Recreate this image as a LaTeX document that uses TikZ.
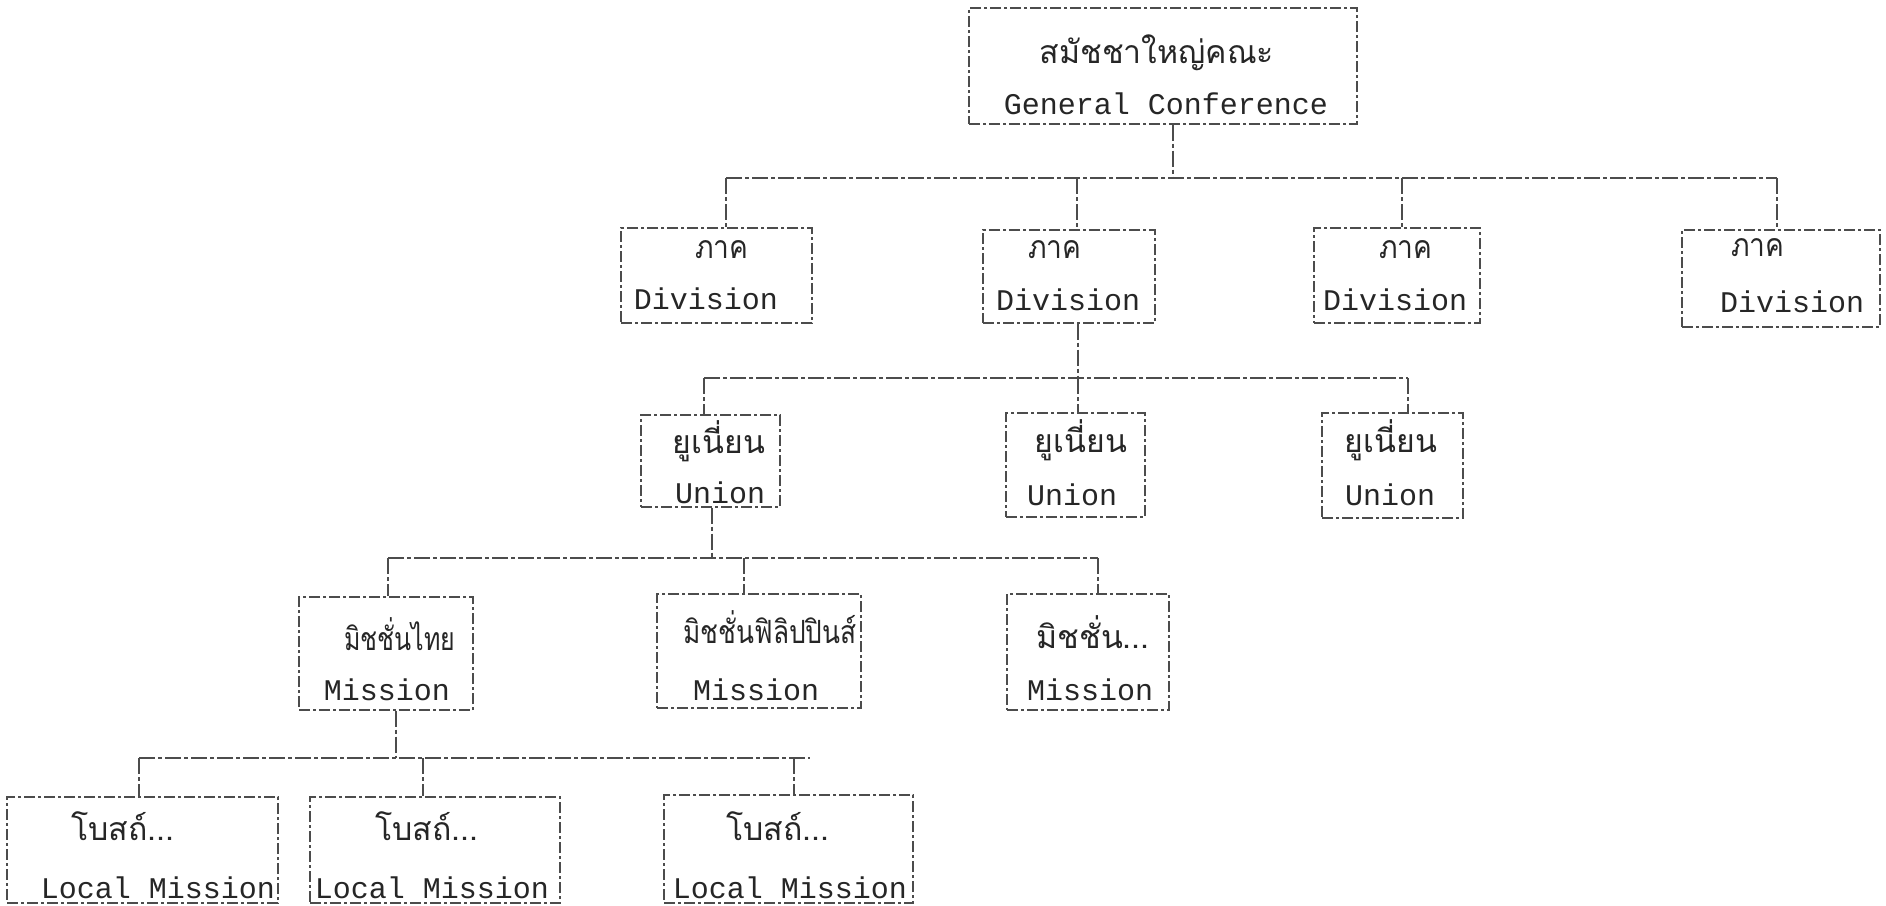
\documentclass[tikz,border=0pt]{standalone}
\usepackage{fontspec}
\newfontfamily\enfont{Liberation Mono}
\newfontfamily\thaifont[Script=Thai]{Loma}
\usetikzlibrary{fit}
\newcommand{\narrow}[2]{\scalebox{#1}[1]{#2}}
\begin{document}
\begin{tikzpicture}[x=1pt,y=-1pt,
  box/.style={draw=black!70, line width=1.3pt, dash pattern=on 11pt off 3pt on 3pt off 3pt, inner sep=0pt},
  conn/.style={draw=black!70, line width=1.3pt, dash pattern=on 16pt off 3pt on 4pt off 3pt},
  th/.style={font=\thaifont\fontsize{32}{38}\selectfont, anchor=base, inner sep=0pt, text=black!85},
  en/.style={font=\enfont\fontsize{30}{36}\selectfont, anchor=base, inner sep=0pt, text=black!85}]
\useasboundingbox[fill=white] (0,0) rectangle (1886,905);

% ---- boxes ----
\node[box, fit={(969,8) (1357,124)}] (gc) {};
\node[box, fit={(621,228) (812,323)}] (div1) {};
\node[box, fit={(983,230) (1155,323)}] (div2) {};
\node[box, fit={(1314,228) (1480,323)}] (div3) {};
\node[box, fit={(1682,230) (1880,327)}] (div4) {};
\node[box, fit={(641,415) (780,507)}] (un1) {};
\node[box, fit={(1006,413) (1145,517)}] (un2) {};
\node[box, fit={(1322,413) (1463,518)}] (un3) {};
\node[box, fit={(299,597) (473,710)}] (mi1) {};
\node[box, fit={(657,594) (861,708)}] (mi2) {};
\node[box, fit={(1007,594) (1169,710)}] (mi3) {};
\node[box, fit={(7,797) (278,903)}] (lm1) {};
\node[box, fit={(310,797) (560,903)}] (lm2) {};
\node[box, fit={(664,795) (913,903)}] (lm3) {};

% ---- texts ----
\node[th] (gcT) at (1157,63) {สมัชชาใหญ่คณะ};
\node[en] (gcE) at (1166,114) {General Conference};
\node[th] (d1T) at (722,258) {\narrow{0.88}{ภาค}};
\node[en] (d1E) at (706,309) {Division};
\node[th] (d2T) at (1055,258) {\narrow{0.88}{ภาค}};
\node[en] (d2E) at (1068,310) {Division};
\node[th] (d3T) at (1406,258) {\narrow{0.88}{ภาค}};
\node[en] (d3E) at (1395,310) {Division};
\node[th] (d4T) at (1758,256) {\narrow{0.88}{ภาค}};
\node[en] (d4E) at (1792,312) {Division};
\node[th] (u1T) at (719,453) {ยูเนี่ยน};
\node[en] (u1E) at (720,503) {Union};
\node[th] (u2T) at (1081,452) {ยูเนี่ยน};
\node[en] (u2E) at (1072,505) {Union};
\node[th] (u3T) at (1391,452) {ยูเนี่ยน};
\node[en] (u3E) at (1390,505) {Union};
\node[th] (m1T) at (400,650) {\narrow{0.78}{มิชชั่นไทย}};
\node[en] (m1E) at (387,700) {Mission};
\node[th] (m2T) at (770,643) {\narrow{0.82}{มิชชั่นฟิลิปปินส์}};
\node[en] (m2E) at (756,700) {Mission};
\node[th] (m3T) at (1093,648) {มิชชั่น...};
\node[en] (m3E) at (1090,700) {Mission};
\node[th] (l1T) at (123,840) {โบสถ์...};
\node[en] (l1E) at (158,898) {Local Mission};
\node[th] (l2T) at (427,840) {โบสถ์...};
\node[en] (l2E) at (432,898) {Local Mission};
\node[th] (l3T) at (778,840) {โบสถ์...};
\node[en] (l3E) at (790,898) {Local Mission};

% ---- connectors: level 1 ----
\coordinate (b0) at (1173,178);
\coordinate (bA) at (726,178);
\coordinate (bB) at (1077,178);
\coordinate (bC) at (1402,178);
\coordinate (bD) at (1777,178);
\draw[conn] (b0 |- gc.south) -- (b0);
\draw[conn] (bA) -- (bD);
\draw[conn] (bA) -- (bA |- div1.north);
\draw[conn] (bB) -- (bB |- div2.north);
\draw[conn] (bC) -- (bC |- div3.north);
\draw[conn] (bD) -- (bD |- div4.north);

% ---- level 2 ----
\coordinate (u0) at (1078,378);
\coordinate (uA) at (704,378);
\coordinate (uC) at (1408,378);
\draw[conn] (u0 |- div2.south) -- (u0);
\draw[conn] (uA) -- (uC);
\draw[conn] (uA) -- (uA |- un1.north);
\draw[conn] (u0) -- (u0 |- un2.north);
\draw[conn] (uC) -- (uC |- un3.north);

% ---- level 3 ----
\coordinate (m0) at (712,558);
\coordinate (mA) at (388,558);
\coordinate (mB) at (744,558);
\coordinate (mC) at (1098,558);
\draw[conn] (m0 |- un1.south) -- (m0);
\draw[conn] (mA) -- (mC);
\draw[conn] (mA) -- (mA |- mi1.north);
\draw[conn] (mB) -- (mB |- mi2.north);
\draw[conn] (mC) -- (mC |- mi3.north);

% ---- level 4 ----
\coordinate (l0) at (396,758);
\coordinate (lA) at (139,758);
\coordinate (lB) at (423,758);
\coordinate (lC) at (794,758);
\coordinate (lE) at (810,758);
\draw[conn] (l0 |- mi1.south) -- (l0);
\draw[conn] (lA) -- (lE);
\draw[conn] (lA) -- (lA |- lm1.north);
\draw[conn] (lB) -- (lB |- lm2.north);
\draw[conn] (lC) -- (lC |- lm3.north);
\end{tikzpicture}
\end{document}
